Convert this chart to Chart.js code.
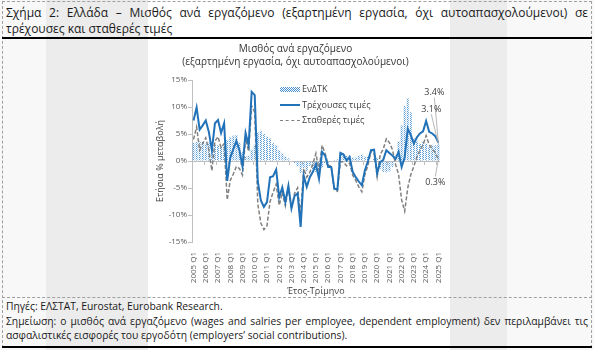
<!DOCTYPE html>
<html>
<head>
<meta charset="utf-8">
<script src="https://cdn.jsdelivr.net/npm/chart.js@4.4.1/dist/chart.umd.min.js"></script>
<style>
  html, body { margin: 0; padding: 0; }
  body {
    width: 594px; height: 350px; position: relative; overflow: hidden;
    font-family: 'Open Sans', sans-serif; color: #1a1a1a;
    background: linear-gradient(to right,
      #f8f8f8 0, #f8f8f8 46px, #ececec 46px, #ececec 148px,
      #ffffff 148px, #ffffff 450px, #ececec 450px, #ececec 507px,
      #f8f8f8 507px, #f8f8f8 594px);
  }
  .frame { position: absolute; left: 2px; top: 1px; width: 588px; height: 345px; border: 1px dashed #a0a0a0; }
  .rule { position: absolute; left: 2px; width: 590px; height: 2px; background: #000; }
  .sep { position: absolute; left: 2px; width: 590px; top: 297px; border-top: 1px dashed #a0a0a0; }
  .head { position: absolute; left: 6px; width: 582px; top: 5px; font-size: 12px; line-height: 16px; }
  .foot { position: absolute; left: 6px; width: 582px; top: 299px; font-size: 10.3px; line-height: 14.5px; }
  .just { text-align: justify; text-align-last: justify; white-space: nowrap; }
  #wrap { position: absolute; left: 148px; top: 40px; width: 302px; height: 257px; }
  .legend { position: absolute; left: 280px; top: 81px; font-size: 9px; color: #404040; }
  .legend div { height: 15.5px; line-height: 15.5px; white-space: nowrap; }
  .sw { display: inline-block; width: 20px; vertical-align: middle; margin-right: 2px; }
  .sw.bar { height: 5px; background-image: conic-gradient(#4f8fd0 25%, transparent 0 50%, #4f8fd0 0 75%, transparent 0); background-size: 2px 2px; }
  .sw.cur { height: 0; border-top: 2px solid #2172b8; }
  .sw.con { height: 0; border-top: 1.5px dashed #808080; }
</style>
</head>
<body>
<div class="frame"></div>
<div class="head">
  <div class="just">Σχήμα 2: Ελλάδα – Μισθός ανά εργαζόμενο (εξαρτημένη εργασία, όχι αυτοαπασχολούμενοι) σε</div>
  <div>τρέχουσες και σταθερές τιμές</div>
</div>
<div class="rule" style="top:37px"></div>
<div id="wrap"><canvas id="chart" width="302" height="257"></canvas></div>
<div class="legend">
  <div><span class="sw bar"></span>ΕνΔΤΚ</div>
  <div><span class="sw cur"></span>Τρέχουσες τιμές</div>
  <div><span class="sw con"></span>Σταθερές τιμές</div>
</div>
<div class="sep"></div>
<div class="foot">
  <div>Πηγές: ΕΛΣΤΑΤ, Eurostat, Eurobank Research.</div>
  <div class="just">Σημείωση: ο μισθός ανά εργαζόμενο (wages and salries per employee, dependent employment) δεν περιλαμβάνει τις</div>
  <div>ασφαλιστικές εισφορές του εργοδότη (employers’ social contributions).</div>
</div>
<div class="rule" style="top:346px"></div>

<script>
// Years on the axis, quarterly data 2005 Q1 - 2025 Q1
const years = [2005, 2006, 2007, 2008, 2009, 2010, 2011, 2012, 2013, 2014,
               2015, 2016, 2017, 2018, 2019, 2020, 2021, 2022, 2023, 2024, 2025];
const quarterNames = ['Q1', 'Q2', 'Q3', 'Q4'];

// ΕνΔΤΚ (HICP), % y/y
const hicp = [
  3.4, 3.5, 3.6, 3.6,   3.2, 3.4, 3.5, 3.1,   2.9, 2.6, 2.8, 3.9,
  4.4, 4.7, 4.8, 3.4,   1.6, 0.9, 1.0, 2.1,   3.0, 5.3, 5.6, 5.0,
  4.5, 4.2, 3.3, 2.9,   2.0, 1.4, 0.8, 0.5,   0.1, -0.4, -1.0, -2.2,
  -1.3, -1.9, -0.9, -1.5,   -2.0, -1.5, -1.2, -0.4,   -0.3, -0.1, 0.2, 0.3,
  1.6, 1.4, 1.0, 1.1,   0.6, 0.6, 1.0, 1.2,   0.8, 0.8, 0.1, 0.6,
  0.6, -1.4, -2.0, -2.1,   -1.9, -1.1, 1.0, 3.6,   6.6, 10.2, 11.6, 9.0,
  4.2, 3.6, 3.2, 3.5,   3.2, 2.6, 3.0, 2.9,   3.1
];

// Τρέχουσες τιμές (current prices), % y/y
const currentPrices = [
  7.5, 9.9, 5.8, 6.6,   7.5, 5.4, 2.0, 7.0,   7.6, 5.2, 7.0, -3.7,
  0.6, 2.2, 3.7, 2.0,   -1.0, 5.2, 2.9, 12.8,   12.2, -3.8, -7.3, -8.5,
  -7.6, -3.0, -2.8, -1.6,   -6.7, -4.9, -7.6, -4.6,   -8.8, -6.5, -6.0, -12.2,
  -2.7, -4.8, -3.0, -2.0,   -0.6, -3.3, 1.7, 1.0,   -1.1, -1.1, -5.1, -5.3,
  1.5, 1.2, 0.1, 0.7,   -2.0, -3.0, -3.8, -4.5,   -1.7, 0.0, 2.0, 2.1,
  -2.3, -0.2, 0.2, 2.0,   1.5, 1.0, 0.4, 1.7,   -1.1, 0.7, 6.0, 4.8,
  3.2, 4.4, 5.1, 5.5,   7.4, 5.4, 5.1, 4.6,   3.4
];

// Σταθερές τιμές (constant prices), % y/y
const constantPrices = [
  4.0, 6.3, 2.0, 3.2,   4.3, 2.0, -1.8, 3.7,   4.5, 2.5, 3.2, -7.2,
  -3.6, -2.4, -1.0, -1.4,   -2.6, 4.2, 1.8, 10.2,   9.0, -8.0, -11.5, -12.7,
  -12.0, -7.5, -5.8, -4.3,   -8.2, -5.8, -8.3, -5.0,   -8.8, -6.0, -5.0, -10.0,
  -1.4, -3.0, -2.1, -0.5,   1.4, -1.8, 2.9, 1.4,   -0.8, -1.0, -5.3, -5.6,
  -0.1, -0.2, -0.9, -0.4,   -2.6, -3.6, -4.8, -5.7,   -2.5, -0.8, 1.9, 1.5,
  -2.9, 1.2, 2.2, 4.1,   3.4, 2.1, -0.6, -2.5,   -7.2, -9.3, -5.0, -2.5,
  -1.0, 0.8, 2.0, 3.0,   4.7, 3.0, 2.3, 1.5,   0.3
];

const labels = [];
years.forEach(y => quarterNames.forEach(q => labels.push(y + ' ' + q)));
labels.length = hicp.length;

const blue = '#2172b8';
const grey = '#808080';
const axisGrey = '#bfbfbf';
const textGrey = '#595959';
const chartFont = "'Open Sans', sans-serif";

// dotted fill used by the ΕνΔΤΚ bars
function dotPattern() {
  const c = document.createElement('canvas');
  c.width = 2; c.height = 2;
  const g = c.getContext('2d');
  g.fillStyle = '#5b9bd5';
  g.fillRect(0, 0, 1, 1);
  g.fillRect(1, 1, 1, 1);
  return g.createPattern(c, 'repeat');
}

// Labels for the last observation of each series, with thin leader lines
const endLabels = {
  id: 'endLabels',
  afterDatasetsDraw(chart) {
    const ctx = chart.ctx;
    const last = labels.length - 1;
    const marks = [
      { ds: 1, value: currentPrices[last], dx: -4, dy: -50, lineFrom: 5 },
      { ds: 0, value: hicp[last], dx: -7, dy: -35, lineFrom: 5 },
      { ds: 2, value: constantPrices[last], dx: -3, dy: 23, lineFrom: -6 }
    ];
    ctx.save();
    ctx.font = '9px ' + chartFont;
    ctx.fillStyle = '#404040';
    ctx.textAlign = 'center';
    ctx.textBaseline = 'middle';
    ctx.strokeStyle = '#a6a6a6';
    ctx.lineWidth = 0.8;
    marks.forEach(m => {
      const el = chart.getDatasetMeta(m.ds).data[last];
      const tx = el.x + m.dx, ty = el.y + m.dy;
      ctx.beginPath();
      ctx.moveTo(tx, ty + m.lineFrom);
      ctx.lineTo(el.x, el.y);
      ctx.stroke();
      ctx.fillText(m.value.toFixed(1) + '%', tx, ty);
    });
    ctx.restore();
  }
};

new Chart(document.getElementById('chart'), {
  type: 'bar',
  data: {
    labels: labels,
    datasets: [{
      type: 'bar',
      label: 'ΕνΔΤΚ',
      data: hicp,
      backgroundColor: dotPattern(),
      borderWidth: 0,
      barPercentage: 0.65,
      categoryPercentage: 1.0,
      order: 3
    }, {
      type: 'line',
      label: 'Τρέχουσες τιμές',
      data: currentPrices,
      borderColor: blue,
      borderWidth: 2,
      pointRadius: 0,
      tension: 0,
      order: 1
    }, {
      type: 'line',
      label: 'Σταθερές τιμές',
      data: constantPrices,
      borderColor: grey,
      borderWidth: 1.5,
      borderDash: [4, 2],
      pointRadius: 0,
      tension: 0,
      order: 2
    }]
  },
  options: {
    responsive: false,
    animation: false,
    devicePixelRatio: 1,
    layout: { padding: { left: 0, right: 7, top: 0, bottom: 0 } },
    plugins: {
      legend: { display: false },
      tooltip: { enabled: false },
      title: {
        display: true,
        text: ['Μισθός ανά εργαζόμενο', '(εξαρτημένη εργασία, όχι αυτοαπασχολούμενοι)'],
        color: '#333',
        font: { family: chartFont, size: 10, weight: 'normal', lineHeight: 1.3 },
        padding: { top: 3, bottom: 11 }
      }
    },
    scales: {
      x: {
        type: 'category',
        position: 'bottom',
        offset: true,
        grid: { display: false },
        border: { display: false },
        ticks: {
          autoSkip: false,
          minRotation: 90,
          maxRotation: 90,
          padding: 2,
          color: textGrey,
          font: { family: chartFont, size: 8 },
          callback(v) {
            const l = this.getLabelForValue(v);
            return l.endsWith('Q1') ? l : '';
          }
        },
        title: {
          display: true,
          text: 'Έτος-Τρίμηνο',
          color: '#404040',
          font: { family: chartFont, size: 9 },
          padding: { top: 0, bottom: 0 }
        },
        afterFit(scale) { scale.height = 55; }
      },
      xz: {
        type: 'category',
        position: { y: 0 },
        offset: true,
        ticks: { display: false },
        border: { display: true, color: axisGrey, width: 1 },
        grid: {
          drawOnChartArea: false,
          tickLength: 3,
          color: c => (c.index % 4 === 0 ? axisGrey : 'rgba(0,0,0,0)')
        }
      },
      y: {
        min: -15,
        max: 15,
        border: { display: true, color: axisGrey },
        grid: { drawOnChartArea: false, tickLength: 4, color: axisGrey },
        ticks: {
          stepSize: 5,
          padding: 1,
          color: textGrey,
          font: { family: chartFont, size: 8 },
          callback: v => v + '%'
        },
        title: {
          display: true,
          text: 'Ετήσια % μεταβολή',
          color: '#404040',
          font: { family: chartFont, size: 9 },
          padding: { top: 7, bottom: 0 }
        },
        afterFit(scale) { scale.width = 44; }
      }
    }
  },
  plugins: [endLabels]
});
</script>
</body>
</html>
